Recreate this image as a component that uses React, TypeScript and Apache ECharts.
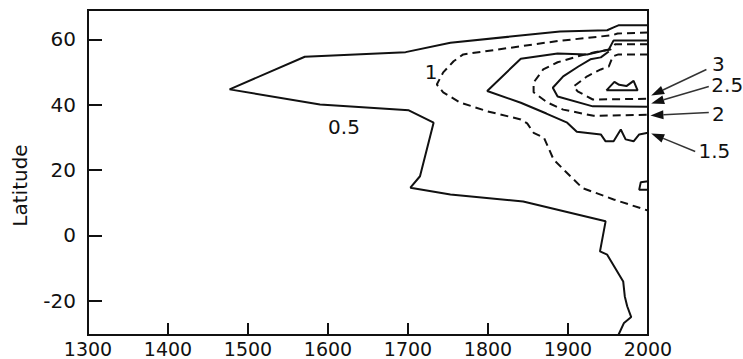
import React, { useEffect, useRef } from "react";
import * as echarts from "echarts";

// Contour lines: [year, latitude]
const contour05: number[][] = [
  [2000, 64.3], [1963, 64.3], [1957, 63.7], [1949, 62.8], [1890, 62.4], [1753, 59.0],
  [1697, 56.1], [1571, 54.7], [1477, 44.7], [1590, 40.1], [1701, 38.3], [1732, 34.5],
  [1715, 18.1], [1703, 14.6], [1753, 12.5], [1844, 10.4], [1947, 4.3], [1940, -4.9],
  [1949, -5.9], [1969, -14.1], [1971, -18.7], [1974, -21.7], [1979, -25.0], [1970, -26.8],
  [1963, -30.5],
];
const contour05b: number[][] = [[2000, 16.6], [1991, 16.3], [1989, 14.0], [2000, 14.0]];
const contour10: number[][] = [
  [2000, 62.1], [1962, 61.8], [1956, 61.3], [1887, 59.5], [1841, 57.9], [1769, 55.4],
  [1757, 53.3], [1744, 49.9], [1736, 46.2], [1744, 43.8], [1765, 40.7], [1799, 38.0],
  [1841, 35.5], [1849, 34.3], [1857, 31.4], [1870, 29.9], [1882, 23.2], [1903, 18.1],
  [1918, 14.5], [1957, 11.0], [2000, 7.6],
];
const contour15: number[][] = [
  [2000, 59.7], [1957, 59.7], [1951, 56.9], [1924, 55.4], [1887, 55.7], [1841, 54.1],
  [1799, 44.2], [1841, 40.6], [1873, 37.3], [1899, 34.5], [1911, 31.7], [1941, 30.9],
  [1947, 28.8], [1957, 28.8], [1966, 32.4], [1972, 29.4], [1982, 28.8], [1989, 30.9],
  [2000, 31.4],
];
const contour20: number[][] = [
  [2000, 58.5], [1959, 58.5], [1953, 56.9], [1932, 56.0], [1912, 54.8], [1887, 53.0],
  [1869, 50.8], [1857, 46.8], [1857, 43.8], [1874, 40.7], [1894, 38.5], [1932, 36.6],
  [2000, 36.9],
];
const contour25: number[][] = [
  [1951, 56.3], [1941, 54.5], [1928, 53.9], [1913, 51.7], [1894, 48.7], [1881, 45.2],
  [1887, 42.5], [1931, 39.5], [2000, 39.4],
];
const contour30: number[][] = [
  [2000, 55.4], [1963, 55.4], [1956, 54.8], [1951, 51.7], [1941, 50.8], [1924, 48.7],
  [1907, 45.6], [1912, 44.1], [1931, 41.6], [2000, 41.8],
];
const contour35: number[][] = [
  [1948, 44.4], [1958, 47.0], [1964, 46.1], [1973, 45.7], [1982, 47.3], [1987, 44.4], [1948, 44.4],
];

const yTicks = [-20, 0, 20, 40, 60];

// In-plot contour labels: [text, year, latitude]
const inlineLabels: [string, number, number][] = [
  ["0.5", 1620, 33.3],
  ["1", 1729, 50.0],
];
// Arrow annotations: [text, labelYear, labelLat, tailYear, tailLat, tipYear, tipLat]
const arrowLabels: [string, number, number, number, number, number, number][] = [
  ["3", 2088, 52.6, 2073, 50.8, 2004, 42.8],
  ["2.5", 2099, 45.9, 2076, 45.6, 2004, 40.4],
  ["2", 2088, 37.2, 2076, 37.6, 2003, 36.7],
  ["1.5", 2083, 25.7, 2059, 25.7, 2004, 31.2],
];

const INK = "#111111";
const FONT = "DejaVu Sans";

export default function App() {
  const ref = useRef<HTMLDivElement>(null);
  useEffect(() => {
    document.body.style.margin = "0";
    const chart = echarts.init(ref.current!, null, { renderer: "svg" });
    const mk = (data: number[][], dashed: boolean) => ({
      type: "line",
      data,
      symbol: "none",
      showSymbol: false,
      silent: true,
      clip: false,
      lineStyle: { color: INK, width: 2, type: dashed ? [8, 5] : "solid" },
    });
    const axisLineStyle = { color: INK, width: 2 };
    chart.setOption({
      animation: false,
      backgroundColor: "#ffffff",
      grid: {
        left: 88, right: 95, top: 10, bottom: 24,
        show: true, borderColor: INK, borderWidth: 2,
        outerBoundsMode: "none",
      },
      xAxis: {
        type: "value", min: 1300, max: 2000, interval: 100,
        splitLine: { show: false },
        axisLine: { show: true, onZero: false, lineStyle: axisLineStyle },
        axisTick: { show: true, inside: true, length: 12, lineStyle: axisLineStyle },
        axisLabel: {
          color: INK, fontFamily: FONT, fontSize: 19, margin: 4,
          formatter: (v: number) => String(v),
        },
      },
      yAxis: {
        type: "value", min: -30.5, max: 69,
        splitLine: { show: false },
        axisLine: { show: true, onZero: false, lineStyle: axisLineStyle },
        axisTick: { show: true, inside: true, length: 14, customValues: yTicks, lineStyle: axisLineStyle },
        axisLabel: {
          color: INK, fontFamily: FONT, fontSize: 20, margin: 12, customValues: yTicks,
          formatter: (v: number) => String(v),
        },
        name: "Latitude",
        nameLocation: "middle",
        nameGap: 58,
        nameTextStyle: { color: INK, fontFamily: FONT, fontSize: 20, padding: [0, 26, 0, 0] },
      },
      series: [
        mk(contour05, false),
        mk(contour05b, false),
        mk(contour10, true),
        mk(contour15, false),
        mk(contour20, true),
        mk(contour25, false),
        mk(contour30, true),
        mk(contour35, false),
      ],
    });

    const toPx = (x: number, y: number) => chart.convertToPixel({ gridIndex: 0 }, [x, y]) as number[];
    const graphics: any[] = [];
    inlineLabels.forEach(([t, x, y]) => {
      const p = toPx(x, y);
      graphics.push({
        type: "text", x: p[0], y: p[1], silent: true,
        style: { text: t, fill: INK, font: `20px '${FONT}'`, align: "center", verticalAlign: "middle" },
      });
    });
    arrowLabels.forEach(([t, lx, ly, tx, ty, px, py]) => {
      const L = toPx(lx, ly);
      const T = toPx(tx, ty);
      const P = toPx(px, py);
      const dx = P[0] - T[0];
      const dy = P[1] - T[1];
      const len = Math.sqrt(dx * dx + dy * dy);
      const ux = dx / len, uy = dy / len;
      const hl = 13, hw = 4.5;
      const bx = P[0] - ux * hl, by = P[1] - uy * hl;
      graphics.push({
        type: "line", silent: true,
        shape: { x1: T[0], y1: T[1], x2: bx, y2: by },
        style: { stroke: "#333", lineWidth: 1.5 },
      });
      graphics.push({
        type: "polygon", silent: true,
        shape: { points: [[P[0], P[1]], [bx - uy * hw, by + ux * hw], [bx + uy * hw, by - ux * hw]] },
        style: { fill: "#111" },
      });
      graphics.push({
        type: "text", x: L[0], y: L[1], silent: true,
        style: { text: t, fill: INK, font: `20px '${FONT}'`, align: "center", verticalAlign: "middle" },
      });
    });
    chart.setOption({ graphic: graphics });
    return () => chart.dispose();
  }, []);
  return (
    <div
      ref={ref}
      style={{ position: "absolute", left: 0, top: 0, width: 743, height: 359, background: "#fff" }}
    />
  );
}
